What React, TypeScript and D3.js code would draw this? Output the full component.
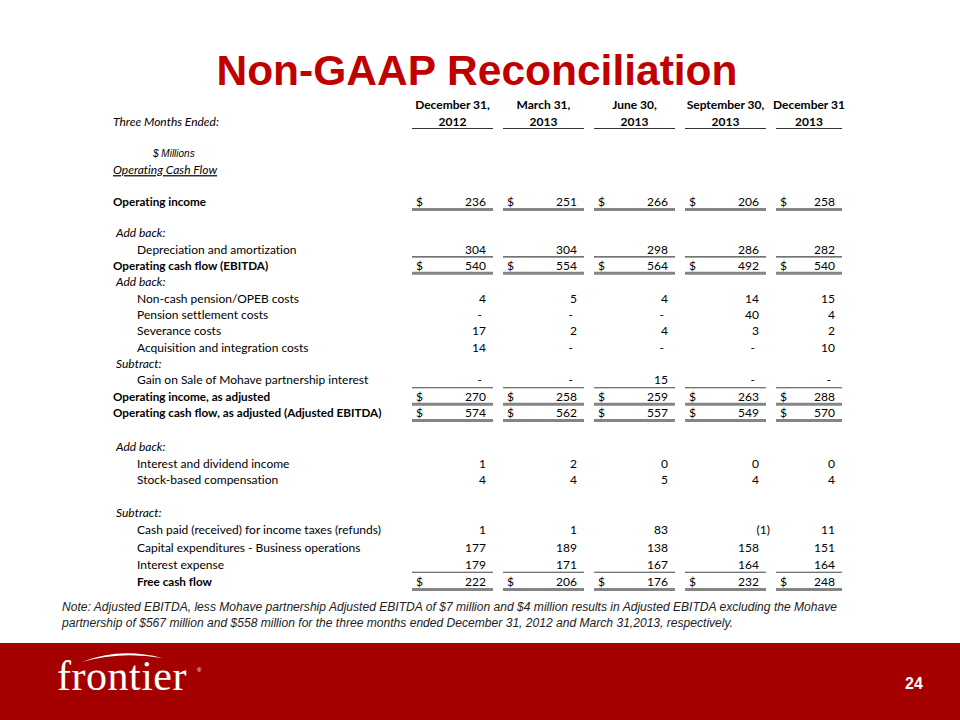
import React from "react";
import * as d3 from "d3";

// column headers
const periods = ["December 31,", "March 31,", "June 30,", "September 30,", "December 31"];
const years = ["2012", "2013", "2013", "2013", "2013"];

// $ millions, null = "-"
const operatingIncome = [236, 251, 266, 206, 258];
const depreciation = [304, 304, 298, 286, 282];
const ebitda = [540, 554, 564, 492, 540];
const pensionOpeb = [4, 5, 4, 14, 15];
const pensionSettlement = [null, null, null, 40, 4];
const severance = [17, 2, 4, 3, 2];
const acquisition = [14, null, null, null, 10];
const mohaveGain = [null, null, 15, null, null];
const operatingIncomeAdj = [270, 258, 259, 263, 288];
const adjustedEbitda = [574, 562, 557, 549, 570];
const interestIncome = [1, 2, 0, 0, 0];
const stockComp = [4, 4, 5, 4, 4];
const incomeTaxes = [1, 1, 83, -1, 11];
const capex = [177, 189, 138, 158, 151];
const interestExpense = [179, 171, 167, 164, 164];
const freeCashFlow = [222, 206, 176, 232, 248];

const noteLines = [
  "Note: Adjusted EBITDA, less Mohave partnership Adjusted EBITDA of $7 million and $4 million results in Adjusted EBITDA excluding the Mohave",
  "partnership of $567 million and $558 million for the three months ended December 31, 2012 and March  31,2013, respectively.",
];

type Row = {
  k: number;
  label: string;
  kind: "bold" | "item" | "sub" | "boldItem";
  values?: (number | null)[];
  dollar?: boolean;
  rule?: "thin" | "thick";
};

const rows: Row[] = [
  { k: 3, label: "Operating income", kind: "bold", values: operatingIncome, dollar: true, rule: "thick" },
  { k: 5, label: "Add back:", kind: "sub" },
  { k: 6, label: "Depreciation and amortization", kind: "item", values: depreciation, rule: "thin" },
  { k: 7, label: "Operating cash flow (EBITDA)", kind: "bold", values: ebitda, dollar: true, rule: "thick" },
  { k: 8, label: "Add back:", kind: "sub" },
  { k: 9, label: "Non-cash pension/OPEB costs", kind: "item", values: pensionOpeb },
  { k: 10, label: "Pension settlement costs", kind: "item", values: pensionSettlement },
  { k: 11, label: "Severance costs", kind: "item", values: severance },
  { k: 12, label: "Acquisition and integration costs", kind: "item", values: acquisition },
  { k: 13, label: "Subtract:", kind: "sub" },
  { k: 14, label: "Gain on Sale of Mohave partnership interest", kind: "item", values: mohaveGain, rule: "thin" },
  { k: 15, label: "Operating income, as adjusted", kind: "bold", values: operatingIncomeAdj, dollar: true, rule: "thick" },
  { k: 16, label: "Operating cash flow, as adjusted (Adjusted EBITDA)", kind: "bold", values: adjustedEbitda, dollar: true, rule: "thick" },
  { k: 18, label: "Add back:", kind: "sub" },
  { k: 19, label: "Interest and dividend income", kind: "item", values: interestIncome },
  { k: 20, label: "Stock-based compensation", kind: "item", values: stockComp },
  { k: 22, label: "Subtract:", kind: "sub" },
  { k: 23, label: "Cash paid (received) for income taxes (refunds)", kind: "item", values: incomeTaxes },
  { k: 24, label: "Capital expenditures - Business operations", kind: "item", values: capex },
  { k: 25, label: "Interest expense", kind: "item", values: interestExpense, rule: "thin" },
  { k: 26, label: "Free cash flow", kind: "boldItem", values: freeCashFlow, dollar: true, rule: "thick" },
];

const W = 960;
const H = 720;
const tableRight = 842;
const font = "Lato, 'Open Sans', sans-serif";

export default function App() {
  const x = d3.scaleBand<number>().domain(d3.range(periods.length)).range([412, 857]).paddingInner(0.11);
  const colL = (i: number) => x(i) as number;
  const colR = (i: number) => Math.min(colL(i) + x.bandwidth(), tableRight);
  // row index -> vertical centre (excel rows are not quite even)
  const y = d3.scaleLinear().domain([0, 1, 3, 5, 16, 18, 22, 26]).range([153, 170, 202, 233, 413, 447, 513, 582]);

  const labelX = (r: Row) => (r.kind === "bold" ? 113 : r.kind === "sub" ? 116 : 137);
  const isBold = (r: Row) => r.kind === "bold" || r.kind === "boldItem";
  const fmt = (v: number | null) => (v == null ? "-" : v < 0 ? `(${-v})` : String(v));
  const valX = (v: number | null, i: number) => (v == null ? colR(i) - 11 : v < 0 ? colR(i) + 4 : colR(i) - 7);

  return (
    <svg width={W} height={H} style={{ position: "absolute", left: 0, top: 0, background: "#fff" }}>
      <rect width={W} height={H} fill="#fff" />
      <text x={477} y={85} textAnchor="middle" fontFamily="'Liberation Sans', Arial, sans-serif" fontWeight="bold" fontSize={42.5} fill="#C00000">
        Non-GAAP Reconciliation
      </text>

      <g fontFamily={font} fontSize={12} fill="#000" style={{ fontVariantLigatures: "none", fontFeatureSettings: "'liga' 0" }}>
        <text x={113} y={122} dy="0.35em" fontStyle="italic">Three Months Ended:</text>
        {periods.map((p, i) => (
          <g key={p + i} fontWeight="bold" textAnchor="middle">
            <text x={(colL(i) + colR(i)) / 2} y={105} dy="0.35em">{p}</text>
            <text x={(colL(i) + colR(i)) / 2} y={122} dy="0.35em">{years[i]}</text>
            <line x1={colL(i)} x2={colR(i)} y1={128.5} y2={128.5} stroke="#333" strokeWidth={1.2} />
          </g>
        ))}

        <text x={153} y={y(0)} dy="0.35em" fontStyle="italic" fontSize={10} fontFamily="'Liberation Sans', Arial, sans-serif">$ Millions</text>
        <text x={113} y={y(1)} dy="0.35em" fontStyle="italic" textDecoration="underline">Operating Cash Flow</text>

        {rows.map((r) => (
          <g key={r.k}>
            <text
              x={labelX(r)}
              y={y(r.k)}
              dy="0.35em"
              fontWeight={isBold(r) ? "bold" : "normal"}
              fontSize={isBold(r) ? 11.7 : 12}
              fontStyle={r.kind === "sub" ? "italic" : "normal"}
            >
              {r.label}
            </text>
            {r.values &&
              r.values.map((v, i) => (
                <g key={i}>
                  {r.dollar && (
                    <text x={colL(i) + 4} y={y(r.k)} dy="0.35em">$</text>
                  )}
                  <text x={valX(v, i)} y={y(r.k)} dy="0.35em" textAnchor="end">{fmt(v)}</text>
                  {r.rule && (
                    <line
                      x1={colL(i)}
                      x2={colR(i)}
                      y1={y(r.k) + 7.5}
                      y2={y(r.k) + 7.5}
                      stroke={r.rule === "thin" ? "#444" : "#858585"}
                      strokeWidth={r.rule === "thin" ? 1.2 : 3}
                    />
                  )}
                </g>
              ))}
          </g>
        ))}
      </g>

      <g fontFamily="'Liberation Sans', Arial, sans-serif" fontStyle="italic" fontSize={12} fill="#222">
        <text x={62} y={611} textLength={775} lengthAdjust="spacingAndGlyphs">{noteLines[0]}</text>
        <text x={62} y={627} textLength={671} lengthAdjust="spacingAndGlyphs">{noteLines[1]}</text>
      </g>

      <rect x={0} y={643} width={W} height={H - 643} fill="#A50000" />
      <path d="M82 662 Q120 647 162 658 Q120 651 82 662 Z" fill="#fff" />
      <text x={57} y={690} fontFamily="'Liberation Serif', serif" fontSize={42} fill="#fff" letterSpacing={0.5}>
        frontier
      </text>
      <text x={197} y={672} fontFamily="'Liberation Sans', Arial, sans-serif" fontSize={6} fill="#fff">®</text>
      <text x={914} y={689} textAnchor="middle" fontFamily="'Liberation Sans', Arial, sans-serif" fontWeight="bold" fontSize={16} fill="#fff">
        24
      </text>
    </svg>
  );
}
